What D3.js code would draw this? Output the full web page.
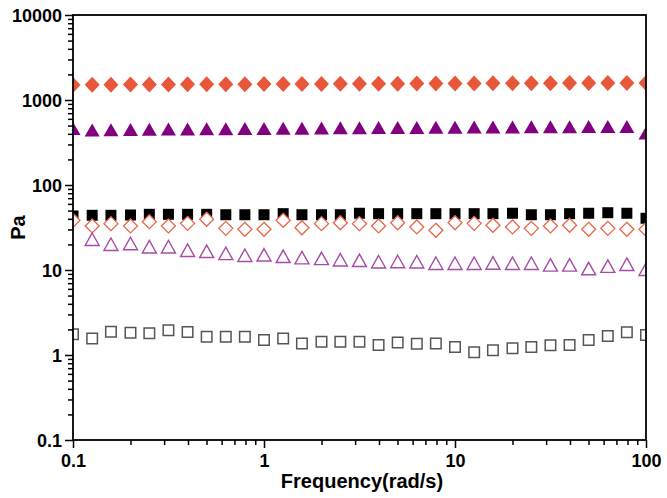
<!DOCTYPE html>
<html>
<head>
<meta charset="utf-8">
<script src="https://cdn.jsdelivr.net/npm/d3@7"></script>
<style>
  html, body { margin: 0; padding: 0; background: #fff; }
  svg { display: block; }
  text { font-family: "Liberation Sans", Arial, sans-serif; font-weight: bold; fill: #000; }
</style>
</head>
<body>
<svg id="chart" width="667" height="498"></svg>
<script>
// ---- data ----
const frequency = [0.1, 0.126, 0.158, 0.2, 0.251, 0.316, 0.398, 0.501, 0.631, 0.794,
  1, 1.26, 1.58, 2, 2.51, 3.16, 3.98, 5.01, 6.31, 7.94,
  10, 12.6, 15.8, 20, 25.1, 31.6, 39.8, 50.1, 63.1, 79.4, 100];

const filledDiamond = [1500, 1510, 1515, 1520, 1525, 1525, 1530, 1530, 1535, 1535,
  1540, 1540, 1545, 1545, 1550, 1550, 1555, 1555, 1560, 1560,
  1565, 1565, 1570, 1570, 1575, 1575, 1580, 1580, 1585, 1585, 1590];
const filledTriangle = [462, 445, 448, 450, 452, 455, 456, 458, 460, 462,
  463, 465, 466, 468, 470, 472, 474, 475, 476, 478,
  479, 480, 481, 482, 484, 485, 486, 487, 488, 488, 410];
const filledSquare = [43.2, 44.0, 44.0, 44.4, 45.2, 45.2, 45.2, 45.2, 44.7, 44.7,
  44.7, 46.0, 44.7, 44.7, 44.7, 46.5, 46.0, 46.0, 46.0, 46.0,
  46.0, 46.0, 46.0, 46.5, 44.7, 44.7, 46.0, 46.5, 47.2, 46.5, 40.6];
const openDiamond = [38.4, 33.0, 35.1, 33.0, 37.0, 33.0, 35.4, 39.5, 30.9, 30.1,
  30.1, 38.4, 31.4, 35.1, 36.0, 35.1, 33.0, 36.0, 32.1, 29.3,
  36.0, 35.4, 33.6, 32.1, 30.9, 33.0, 33.6, 30.1, 30.9, 30.1, 30.1];
const openTriangle = [null, 23.0, 20.1, 20.5, 18.8, 18.8, 17.1, 16.6, 15.7, 14.9,
  15.1, 14.5, 14.0, 13.7, 13.2, 13.0, 12.5, 12.6, 12.5, 12.0,
  12.0, 12.0, 12.1, 12.0, 12.0, 11.5, 11.5, 10.4, 11.1, 11.7, 10.2];
const openSquare = [1.75, 1.56, 1.88, 1.83, 1.80, 1.95, 1.86, 1.64, 1.64, 1.64,
  1.50, 1.56, 1.37, 1.43, 1.43, 1.43, 1.31, 1.40, 1.36, 1.37,
  1.24, 1.08, 1.14, 1.20, 1.24, 1.30, 1.31, 1.50, 1.67, 1.85, 1.72];

const xTickLabels = ["0.1", "1", "10", "100"];
const yTickLabels = ["0.1", "1", "10", "100", "1000", "10000"];
const xTitle = "Frequency(rad/s)";
const yTitle = "Pa";

// ---- layout ----
const svg = d3.select("#chart");
const L = 73, R = 646, T = 15, B = 440;

const x = d3.scaleLog().domain([0.1, 100]).range([L, R]);
const y = d3.scaleLog().domain([0.1, 10000]).range([B, T]);

function logTicks(lo, hi) {
  const out = [];
  for (let e = Math.log10(lo); e < Math.log10(hi) - 1e-9; e++) {
    for (let k = 1; k < 10; k++) out.push(k * Math.pow(10, e));
  }
  out.push(hi);
  return out;
}
const xAll = logTicks(0.1, 100);
const yAll = logTicks(0.1, 10000);
const xMajor = xTickLabels.map(Number);
const yMajor = yTickLabels.map(Number);
const majorIndex = (v, arr) => arr.findIndex(m => Math.abs(Math.log10(v) - Math.log10(m)) < 1e-6);

svg.append("defs").append("clipPath").attr("id", "plotclip")
  .append("rect").attr("x", L).attr("y", T).attr("width", R - L).attr("height", B - T);

// ---- markers ----
const series = [
  { values: filledSquare, shape: "square", size: 11, fill: "#000", stroke: "none", sw: 0 },
  { values: filledDiamond, shape: "diamond", w: 15, h: 16, fill: "#E8573A", stroke: "none", sw: 0 },
  { values: filledTriangle, shape: "triangle", w: 15, h: 13, fill: "#800080", stroke: "none", sw: 0 },
  { values: openDiamond, shape: "diamond", w: 14, h: 14, fill: "#fff", stroke: "#E8664A", sw: 1.3 },
  { values: openTriangle, shape: "triangle", w: 14, h: 12.5, fill: "#fff", stroke: "#A64CA6", sw: 1.4 },
  { values: openSquare, shape: "square", size: 10.5, fill: "#fff", stroke: "#555", sw: 1.5 }
];

function shapePath(s) {
  if (s.shape === "square") {
    const h = s.size / 2;
    return `M${-h},${-h}H${h}V${h}H${-h}Z`;
  }
  if (s.shape === "diamond") {
    const a = s.w / 2, b = s.h / 2;
    return `M0,${-b}L${a},0L0,${b}L${-a},0Z`;
  }
  const a = s.w / 2, b = s.h / 2;
  return `M0,${-b}L${a},${b}L${-a},${b}Z`;
}

const plot = svg.append("g").attr("clip-path", "url(#plotclip)");
series.forEach(s => {
  const pts = frequency.map((f, i) => ({ f, v: s.values[i] })).filter(d => d.v != null);
  plot.append("g").selectAll("path").data(pts).join("path")
    .attr("d", shapePath(s))
    .attr("transform", d => `translate(${x(d.f)},${y(d.v)})`)
    .attr("fill", s.fill)
    .attr("stroke", s.stroke)
    .attr("stroke-width", s.sw);
});

// ---- frame ----
svg.append("rect").attr("x", L).attr("y", T).attr("width", R - L).attr("height", B - T)
  .attr("fill", "none").attr("stroke", "#000").attr("stroke-width", 1.8);

// ---- axes ----
const tickFont = "18px";
const xAxis = d3.axisBottom(x).tickValues(xAll).tickSize(0).tickFormat(() => "");
const gx = svg.append("g").attr("transform", `translate(0,${B})`).call(xAxis);
gx.select(".domain").remove();
gx.selectAll(".tick line").attr("y2", d => majorIndex(d, xMajor) >= 0 ? 8 : 5)
  .attr("stroke", "#000").attr("stroke-width", 1.5);
gx.selectAll(".tick text").filter(d => majorIndex(d, xMajor) >= 0)
  .text(d => xTickLabels[majorIndex(d, xMajor)])
  .attr("y", 14).attr("dy", "0.71em")
  .style("font-size", tickFont).style("font-family", "'Liberation Sans', Arial, sans-serif")
  .style("font-weight", "bold").attr("fill", "#000");

const yAxis = d3.axisLeft(y).tickValues(yAll).tickSize(0).tickFormat(() => "");
const gy = svg.append("g").attr("transform", `translate(${L},0)`).call(yAxis);
gy.select(".domain").remove();
gy.selectAll(".tick line").attr("x2", d => majorIndex(d, yMajor) >= 0 ? -8 : -5)
  .attr("stroke", "#000").attr("stroke-width", 1.5);
gy.selectAll(".tick text").filter(d => majorIndex(d, yMajor) >= 0)
  .text(d => yTickLabels[majorIndex(d, yMajor)])
  .attr("x", -11).attr("dy", "0.35em")
  .style("font-size", tickFont).style("font-family", "'Liberation Sans', Arial, sans-serif")
  .style("font-weight", "bold").attr("fill", "#000");

// ---- titles ----
svg.append("text").attr("x", 362).attr("y", 488)
  .attr("text-anchor", "middle").style("font-size", "20px").text(xTitle);
svg.append("text").attr("transform", `translate(25,${(T + B) / 2}) rotate(-90)`)
  .attr("text-anchor", "middle").style("font-size", "20px").text(yTitle);
</script>
</body>
</html>
